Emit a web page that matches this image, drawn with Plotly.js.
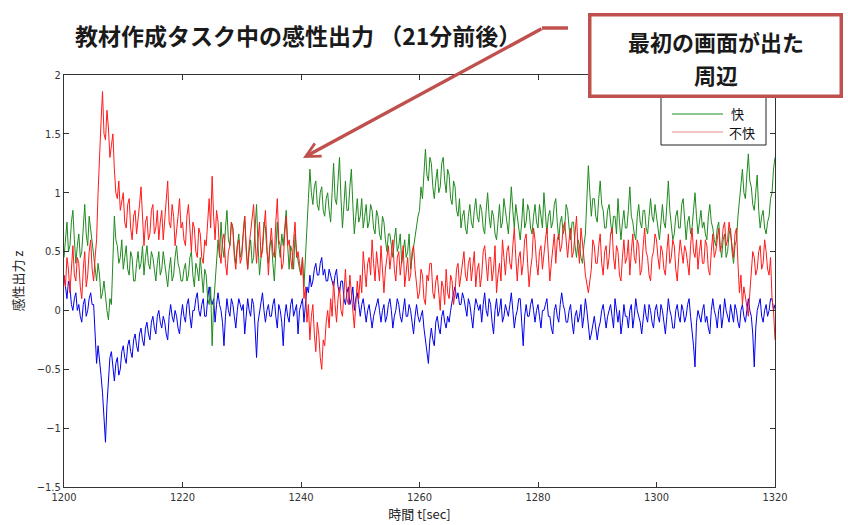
<!DOCTYPE html>
<html>
<head>
<meta charset="utf-8">
<script src="https://cdn.plot.ly/plotly-3.0.1.min.js"></script>
<style>html,body{margin:0;padding:0;background:#fff;}#chart{width:848px;height:525px;}</style>
</head>
<body>
<div id="chart"></div>
<script>
var tStart = 1200, tStep = 0.25;
var xTickVals = [1200, 1220, 1240, 1260, 1280, 1300, 1320];
var yTickVals = [-1.5, -1, -0.5, 0, 0.5, 1, 1.5, 2];
var yTickText = ['−1.5', '−1', '−0.5', '0', '0.5', '1', '1.5', '2'];
var seriesNames = ['中立', '快', '不快'];
var calloutLines = ['最初の画面が出た', '周辺'];

var blueVals = [
 0.30,0.20,0.10,0.25,0.20,0.05,0.00,0.10,0.15,0.00,0.05,-0.05,-0.10,0.05,0.10,-0.05,0.00,0.10,0.15,0.05,
 0.05,-0.20,-0.45,-0.30,-0.40,-0.55,-0.70,-0.95,-1.12,-0.80,-0.55,-0.40,-0.35,-0.50,-0.60,-0.45,-0.40,-0.55,-0.50,-0.35,
 -0.30,-0.40,-0.45,-0.30,-0.25,-0.35,-0.40,-0.25,-0.20,-0.30,-0.35,-0.20,-0.15,-0.25,-0.30,-0.15,-0.10,-0.20,-0.25,-0.10,
 -0.05,-0.15,-0.20,-0.05,0.00,-0.10,-0.15,-0.05,-0.10,-0.20,-0.25,-0.05,0.05,-0.05,-0.10,0.00,-0.05,-0.15,-0.20,-0.05,
 0.05,-0.05,-0.10,0.05,0.10,-0.05,-0.15,0.00,0.00,0.10,0.15,0.00,-0.05,0.05,0.10,-0.05,-0.05,0.10,0.20,0.10,
 0.05,0.10,-0.10,0.05,0.15,0.05,0.00,-0.10,-0.30,-0.05,0.10,0.00,-0.05,0.10,0.05,-0.05,-0.15,0.00,0.10,0.05,
 0.00,0.05,-0.20,-0.05,0.10,0.00,-0.05,0.10,0.05,-0.15,-0.40,-0.10,0.00,0.05,0.15,0.00,-0.10,0.00,0.05,-0.05,
 -0.05,0.05,0.10,-0.05,-0.15,0.05,0.00,-0.10,-0.30,-0.05,0.05,-0.05,-0.10,0.05,0.10,-0.05,0.00,0.05,-0.20,0.00,
 0.05,0.10,-0.10,0.05,0.20,0.15,0.30,0.20,0.25,0.35,0.40,0.30,0.30,0.40,0.45,0.30,0.35,0.25,0.25,0.35,
 0.30,0.25,0.20,0.30,0.35,0.20,0.15,0.25,0.25,0.10,0.05,0.15,0.20,0.05,0.10,0.20,0.00,0.10,0.15,0.05,
 -0.05,0.05,0.10,0.00,-0.10,0.00,0.05,-0.05,-0.15,-0.05,0.00,0.05,0.10,0.00,-0.10,0.00,0.05,-0.10,-0.05,0.05,
 0.10,0.00,-0.15,-0.05,0.00,0.10,0.05,-0.05,-0.10,0.00,0.10,-0.05,-0.05,0.05,0.00,-0.10,-0.20,-0.05,0.05,-0.05,
 -0.10,-0.05,0.00,-0.15,-0.25,-0.35,-0.45,-0.25,-0.15,-0.25,-0.30,-0.10,-0.05,-0.15,-0.20,-0.05,0.00,-0.10,-0.15,-0.05,
 -0.10,0.00,0.10,0.15,0.20,0.10,0.15,0.05,0.05,0.15,0.10,0.00,-0.05,0.10,0.05,-0.05,-0.15,0.00,0.10,0.05,
 0.00,0.05,-0.10,0.05,0.15,0.00,-0.05,0.10,0.05,-0.10,-0.20,0.00,0.10,-0.05,0.00,0.10,-0.10,-0.05,0.05,0.00,
 -0.05,0.05,0.15,0.00,-0.15,-0.05,0.00,0.10,0.10,-0.10,-0.30,-0.05,0.05,-0.05,-0.05,0.05,0.10,0.00,-0.10,0.00,
 0.05,-0.05,-0.15,0.00,0.00,0.05,0.10,-0.05,-0.05,-0.15,-0.20,0.00,0.05,-0.05,-0.10,0.05,0.15,0.05,0.00,-0.10,
 -0.10,0.00,0.05,-0.10,-0.20,-0.05,0.00,-0.10,-0.05,0.05,-0.15,-0.05,0.10,0.00,-0.10,-0.25,-0.20,-0.10,-0.05,-0.15,
 -0.25,-0.15,-0.10,0.00,0.05,-0.05,-0.15,-0.05,0.00,0.05,-0.05,-0.15,0.10,0.00,-0.10,0.00,-0.20,-0.10,0.05,-0.05,
 -0.05,-0.15,0.00,0.05,-0.15,-0.05,0.10,0.00,-0.05,-0.10,-0.20,-0.05,0.05,-0.05,-0.10,0.05,0.00,-0.10,-0.15,0.00,
 0.05,-0.05,-0.10,0.05,0.00,-0.10,-0.20,-0.05,0.10,0.00,-0.05,-0.15,-0.15,0.00,0.05,-0.05,-0.10,0.05,0.00,-0.10,
 -0.05,0.05,0.10,-0.05,-0.15,-0.30,-0.48,-0.10,0.00,-0.05,-0.10,0.00,0.05,-0.10,-0.05,-0.15,-0.20,0.00,0.10,0.00,
 -0.05,-0.15,0.00,0.05,-0.15,-0.05,0.10,0.00,-0.05,-0.10,0.05,-0.05,-0.10,0.05,0.00,-0.10,-0.15,0.00,0.05,-0.05,
 -0.10,0.00,0.10,0.00,-0.05,-0.20,-0.48,-0.15,0.00,0.05,0.10,-0.05,-0.10,0.00,0.05,-0.05,0.00,0.10,0.10,0.00,
 0.05
];

var greenVals = [
 0.45,0.60,0.75,0.50,0.55,0.75,0.85,0.60,0.40,0.55,0.65,0.45,0.50,0.70,0.90,0.65,0.55,0.80,0.70,0.55,
 0.45,0.35,0.25,0.40,0.30,0.10,0.15,0.25,0.10,0.00,-0.08,0.10,0.05,0.45,0.80,0.60,0.55,0.40,0.45,0.60,
 0.35,0.45,0.55,0.35,0.30,0.50,0.45,0.25,0.25,0.40,0.50,0.35,0.40,0.55,0.30,0.45,0.55,0.40,0.35,0.50,
 0.45,0.35,0.25,0.40,0.50,0.30,0.35,0.50,0.40,0.30,0.20,0.35,0.45,0.25,0.30,0.45,0.55,0.40,0.35,0.25,
 0.25,0.35,0.40,0.25,0.30,0.45,0.50,0.30,0.20,0.40,0.35,0.25,0.45,0.30,0.15,0.35,0.30,0.10,0.05,0.20,
 -0.30,0.05,0.25,0.45,0.60,0.45,0.75,0.55,0.45,0.70,0.85,0.60,0.55,0.75,0.70,0.50,0.40,0.55,0.65,0.45,
 0.50,0.65,0.80,0.55,0.35,0.50,0.60,0.40,0.45,0.70,0.90,0.55,0.30,0.45,0.55,0.75,0.70,0.50,0.40,0.55,
 0.60,0.40,0.25,0.50,0.75,0.55,0.45,0.65,0.55,0.70,0.85,0.55,0.35,0.55,0.50,0.35,0.65,0.50,0.40,0.35,
 0.30,0.45,0.20,0.40,0.70,0.95,1.20,1.00,0.90,1.05,1.10,0.90,0.85,1.00,1.05,0.85,0.80,0.95,1.00,0.85,
 0.75,1.00,1.25,0.95,0.90,1.10,1.30,0.95,0.70,0.90,1.10,0.85,0.85,1.05,1.20,0.90,0.65,0.80,0.95,0.75,
 0.80,0.95,0.70,0.80,0.90,0.70,0.75,0.90,0.85,0.70,0.65,0.85,0.80,0.65,0.60,0.80,0.75,0.60,0.50,0.65,
 0.65,0.55,0.45,0.60,0.70,0.50,0.55,0.65,0.40,0.50,0.60,0.45,0.50,0.65,0.35,0.45,0.55,0.65,0.70,0.80,
 0.85,1.05,0.95,1.15,1.37,1.15,1.10,1.30,1.25,1.05,0.95,1.10,1.20,1.00,1.05,1.25,1.30,1.10,1.00,1.20,
 1.15,0.95,0.90,1.10,1.05,0.85,0.80,0.95,0.70,0.80,0.85,0.70,0.65,0.80,0.90,0.75,0.70,0.85,0.95,0.80,
 0.75,0.90,0.85,0.70,0.65,0.85,1.00,0.80,0.70,0.85,0.80,0.65,0.60,0.75,0.90,0.70,0.75,0.95,0.85,0.70,
 0.65,0.85,1.05,0.85,0.70,0.90,0.80,0.65,0.60,0.75,0.95,0.70,0.75,0.90,0.85,0.70,0.65,0.80,0.90,0.75,
 0.70,0.90,0.80,0.70,1.00,0.80,0.65,0.80,0.85,0.70,0.75,0.90,0.95,0.75,0.60,0.75,0.80,0.65,0.70,0.90,
 0.85,0.70,0.60,0.75,0.75,0.55,0.45,0.60,0.55,0.45,0.40,0.55,0.65,0.95,1.23,1.00,0.80,0.95,0.95,0.80,
 0.75,0.95,1.10,0.90,0.85,0.70,0.70,0.85,0.90,0.75,0.65,0.80,0.80,0.65,0.95,0.75,0.60,0.75,0.85,0.70,
 0.70,0.85,1.05,0.80,0.75,0.65,0.60,0.80,0.90,0.75,0.70,0.85,0.85,0.70,0.65,0.80,0.95,0.80,0.75,0.90,
 0.80,0.70,0.60,0.75,0.90,0.75,0.70,0.90,1.10,0.85,0.75,0.60,0.65,0.80,0.85,0.70,0.70,0.90,0.95,0.75,
 0.60,0.75,0.80,0.65,0.70,0.85,1.00,0.80,0.65,0.75,0.85,0.70,0.75,0.65,0.60,0.80,0.90,0.75,0.70,0.60,
 0.55,0.70,0.75,0.55,0.45,0.60,0.65,0.45,0.50,0.65,0.70,0.50,0.40,0.55,0.60,0.80,0.95,1.10,1.20,1.00,
 0.95,1.15,1.33,1.10,1.05,0.90,0.85,1.00,1.15,0.85,0.70,0.80,0.85,0.70,0.65,0.75,0.80,0.95,1.00,1.20,
 1.30
];

var redVals = [
 0.30,0.20,0.45,0.35,0.15,0.40,0.55,0.30,0.25,0.45,0.40,0.20,0.10,0.35,0.50,0.20,0.30,0.50,0.60,0.35,
 0.25,0.45,0.60,1.00,1.35,1.60,1.86,1.50,1.45,1.70,1.55,1.30,1.40,1.50,1.20,1.00,0.95,1.10,0.85,0.95,
 1.00,0.75,0.70,0.90,0.95,0.70,0.60,0.80,0.85,0.65,0.75,0.90,1.05,0.80,0.55,0.75,0.80,0.60,0.65,0.85,
 0.90,0.65,0.70,0.85,0.60,0.75,0.85,0.60,0.75,0.95,1.10,0.75,0.70,0.90,0.80,0.55,0.65,0.80,0.95,0.70,
 0.75,0.60,0.55,0.80,0.90,0.65,0.50,0.75,0.70,0.50,0.45,0.70,0.65,0.45,0.40,0.60,0.55,0.75,0.95,0.70,
 1.14,0.80,0.60,0.85,0.75,0.50,0.40,0.60,0.65,0.40,0.30,0.50,0.55,0.75,0.70,0.45,0.35,0.55,0.60,0.40,
 0.45,0.65,0.80,0.50,0.35,0.55,0.65,0.80,0.90,0.60,0.40,0.60,0.75,0.45,0.50,0.70,0.85,0.55,0.30,0.55,
 0.70,0.50,0.45,0.75,0.95,0.60,0.55,0.35,0.40,0.65,0.80,0.55,0.60,0.45,0.35,0.60,0.75,0.45,0.50,0.40,
 0.30,0.45,0.10,0.20,-0.10,0.05,-0.25,-0.05,0.05,-0.20,-0.35,-0.10,-0.20,-0.40,-0.50,-0.25,-0.30,-0.10,0.00,-0.15,
 0.10,-0.05,0.25,0.05,-0.10,0.10,0.20,0.00,-0.05,0.15,0.35,0.10,0.05,0.30,0.15,-0.05,-0.15,0.05,0.25,0.10,
 0.30,0.15,0.50,0.35,0.20,0.40,0.45,0.30,0.60,0.40,0.25,0.50,0.40,0.25,0.55,0.35,0.15,0.35,0.45,0.55,
 0.35,0.50,0.60,0.35,0.25,0.45,0.50,0.30,0.40,0.55,0.20,0.35,0.45,0.25,0.30,0.50,0.55,0.35,0.25,0.10,
 0.15,0.35,0.30,0.10,0.05,0.30,0.25,0.40,0.40,0.15,0.10,0.25,0.30,0.10,0.00,0.25,0.20,0.05,0.35,0.15,
 0.10,0.30,0.25,0.05,0.15,0.35,0.40,0.20,0.30,0.45,0.50,0.30,0.25,0.40,0.45,0.25,0.35,0.50,0.20,0.35,
 0.40,0.20,0.30,0.50,0.55,0.35,0.25,0.45,0.45,0.25,0.35,0.55,0.15,0.30,0.40,0.25,0.60,0.45,0.30,0.50,
 0.55,0.40,0.35,0.55,0.70,0.45,0.25,0.45,0.50,0.30,0.40,0.60,0.65,0.40,0.20,0.35,0.45,0.70,0.60,0.40,
 0.30,0.50,0.55,0.35,0.45,0.60,0.70,0.45,0.25,0.40,0.50,0.65,0.40,0.60,0.65,0.50,0.55,0.70,0.75,0.55,
 0.45,0.60,0.70,0.45,0.50,0.65,0.80,0.55,0.40,0.70,0.60,0.45,0.30,0.20,0.15,0.25,0.35,0.60,0.55,0.40,
 0.40,0.55,0.65,0.40,0.30,0.50,0.55,0.35,0.45,0.65,0.70,0.45,0.35,0.55,0.50,0.30,0.25,0.45,0.60,0.40,
 0.45,0.60,0.30,0.50,0.65,0.45,0.40,0.60,0.55,0.30,0.35,0.55,0.70,0.50,0.45,0.30,0.25,0.45,0.50,0.65,
 0.60,0.45,0.35,0.55,0.50,0.35,0.30,0.50,0.65,0.40,0.45,0.60,0.55,0.35,0.25,0.45,0.60,0.50,0.40,0.55,
 0.50,0.40,0.30,0.55,0.70,0.50,0.45,0.60,0.35,0.50,0.60,0.40,0.40,0.60,0.55,0.35,0.30,0.50,0.65,0.45,
 0.50,0.60,0.70,0.50,0.55,0.70,0.75,0.55,0.60,0.75,0.65,0.50,0.45,0.65,0.70,0.40,0.15,0.30,0.05,0.20,
 0.10,0.00,-0.05,0.15,0.30,0.50,0.45,0.30,0.35,0.50,0.55,0.35,0.40,0.60,0.50,0.35,0.30,0.45,0.10,0.00,
 -0.25
];

// ---- layout geometry ----
var W = 848, H = 525;
var M = {l: 64, r: 73, t: 75, b: 38};
var PW = W - M.l - M.r, PH = H - M.t - M.b;
function pxX(px) { return (px - M.l) / PW; }
function pxY(py) { return (H - M.b - py) / PH; }

function timeAxis(n) {
  var t = [];
  for (var i = 0; i < n; i++) t.push(tStart + i * tStep);
  return t;
}

var colors = ['#0000ee', '#1f8a1f', '#ff1a1a'];
var vals = [blueVals, greenVals, redVals];
var traces = vals.map(function (v, k) {
  return {
    type: 'scatter', mode: 'lines', name: seriesNames[k],
    x: timeAxis(v.length), y: v,
    line: {color: colors[k], width: 1},
    showlegend: false, hoverinfo: 'skip'
  };
});

var jp = '"Noto Sans CJK JP", "Noto Sans", sans-serif';
var tickFont = {family: '"DejaVu Sans Condensed", "Liberation Sans Narrow", "DejaVu Sans", sans-serif', size: 11, color: '#333'};
var arrowColor = '#c0504d';

var layout = {
  width: W, height: H,
  margin: M,
  paper_bgcolor: '#fff', plot_bgcolor: '#fff',
  title: {
    text: '<b>教材作成タスク中の感性出力 （21分前後）</b>',
    font: {family: jp, size: 23, color: '#1a1a1a'},
    x: 75 / W, xanchor: 'left', xref: 'container',
    y: 1 - 37 / H, yanchor: 'middle', yref: 'container'
  },
  xaxis: {
    range: [1200, 1320], tickvals: xTickVals,
    ticks: 'inside', ticklen: 5, tickcolor: '#333', mirror: 'ticks',
    showline: true, linecolor: '#333', linewidth: 1,
    showgrid: false, zeroline: false, tickfont: tickFont,
    title: {text: '時間 t[sec]', font: {family: jp, size: 13, color: '#222'}, standoff: 4}
  },
  yaxis: {
    range: [-1.5, 2], tickvals: yTickVals, ticktext: yTickText,
    ticks: 'inside', ticklen: 5, tickcolor: '#333', mirror: 'ticks',
    showline: true, linecolor: '#333', linewidth: 1,
    showgrid: false, zeroline: false, tickfont: tickFont,
    title: {text: '感性出力 z', font: {family: jp, size: 13, color: '#222'}, standoff: 10}
  },
  shapes: [
    // legend box (its first entry lies under the callout box)
    {type: 'rect', xref: 'paper', yref: 'paper', layer: 'above',
     x0: pxX(661), x1: pxX(766), y0: pxY(145), y1: pxY(86),
     line: {color: '#222', width: 1}, fillcolor: '#fff'},
    {type: 'line', xref: 'paper', yref: 'paper', layer: 'above',
     x0: pxX(672), x1: pxX(723), y0: pxY(114), y1: pxY(114),
     line: {color: colors[1], width: 1}},
    {type: 'line', xref: 'paper', yref: 'paper', layer: 'above',
     x0: pxX(672), x1: pxX(723), y0: pxY(132), y1: pxY(132),
     line: {color: '#f2b0b0', width: 1.5}},
    // horizontal start of the callout arrow
    {type: 'line', xref: 'paper', yref: 'paper', layer: 'above',
     x0: pxX(542), x1: pxX(568), y0: pxY(28), y1: pxY(28),
     line: {color: arrowColor, width: 3.5}}
  ],
  annotations: [
    {xref: 'paper', yref: 'paper', x: pxX(729), y: pxY(114), xanchor: 'left', yanchor: 'middle',
     text: seriesNames[1], showarrow: false, font: {family: jp, size: 13, color: '#111'}},
    {xref: 'paper', yref: 'paper', x: pxX(727), y: pxY(132), xanchor: 'left', yanchor: 'middle',
     text: seriesNames[2], showarrow: false, font: {family: jp, size: 13, color: '#111'}},
    // arrow
    {xref: 'paper', yref: 'paper', x: pxX(303), y: pxY(158),
     ax: 240, ay: -130, axref: 'pixel', ayref: 'pixel',
     text: '', showarrow: true, arrowcolor: arrowColor, arrowwidth: 3.5,
     arrowhead: 5, arrowsize: 0.8, standoff: 0, startstandoff: 0},
    // callout box (frame only)
    {xref: 'paper', yref: 'paper', x: pxX(715.5), y: pxY(55.5), xanchor: 'center', yanchor: 'middle',
     text: ' ', showarrow: false,
     width: 248, height: 78, borderpad: 0, borderwidth: 3.5,
     bordercolor: arrowColor, bgcolor: '#fff',
     font: {family: jp, size: 10, color: '#fff'}},
    // callout text, one annotation per line
    {xref: 'paper', yref: 'paper', x: pxX(715.5), y: pxY(41), xanchor: 'center', yanchor: 'middle',
     text: '<b>' + calloutLines[0] + '</b>', showarrow: false,
     font: {family: jp, size: 22, color: '#1a1a1a'}},
    {xref: 'paper', yref: 'paper', x: pxX(715.5), y: pxY(74), xanchor: 'center', yanchor: 'middle',
     text: '<b>' + calloutLines[1] + '</b>', showarrow: false,
     font: {family: jp, size: 22, color: '#1a1a1a'}}
  ]
};

Plotly.newPlot('chart', traces, layout, {displayModeBar: false, staticPlot: true});
</script>
</body>
</html>
